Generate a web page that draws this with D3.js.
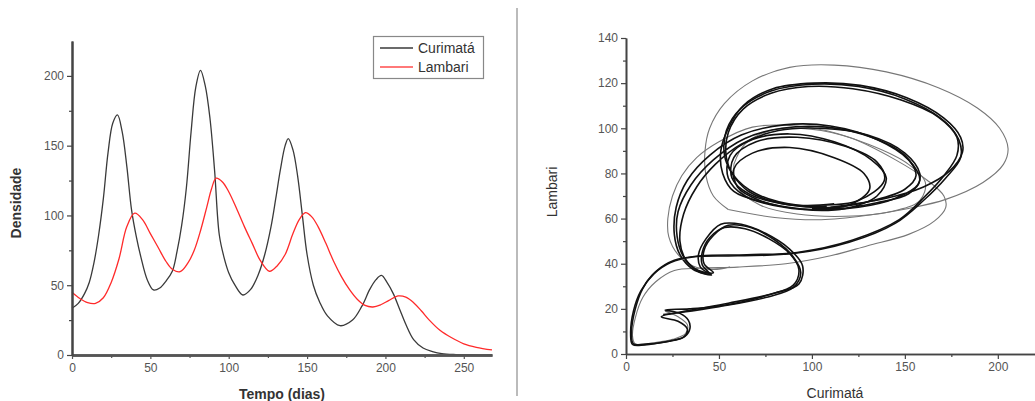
<!DOCTYPE html>
<html>
<head>
<meta charset="utf-8">
<script src="https://cdn.jsdelivr.net/npm/d3@7"></script>
<style>
body { margin: 0; background: #fff; }
text { font-family: "Liberation Sans", Arial, sans-serif; }
</style>
</head>
<body>
<div class="container"></div>
<script>
// ---- time series (left panel) ----
const tempoCurimata = [0, 4, 8, 11, 14, 17, 20, 23, 26, 29, 32, 35, 38, 41, 44, 48, 52, 56, 60, 64, 67, 70, 73, 76, 79, 82, 85, 88, 91, 94, 97, 100, 104, 109, 114, 119, 123, 127, 130, 133, 136, 138, 141, 144, 147, 150, 154, 158, 163, 171, 179, 185, 190, 194, 197.5, 201, 205, 209, 213, 218, 224, 230, 236, 245, 255, 268];
const curimata = [33.5, 37, 44, 52, 66, 86, 112, 145, 166, 172, 160, 135, 104, 85, 70, 54, 46.6, 48, 53, 60, 74, 93, 120, 160, 192, 204, 193, 170, 132, 86, 70, 59, 50, 43, 47, 58, 72, 92, 112, 133, 150, 155, 147, 128, 100, 72, 50, 38, 28, 21, 25, 35, 47, 54, 57, 52, 44, 33, 22, 11, 5, 2.5, 1, 0.3, 0, 0];

const tempoLambari = [0, 5, 10, 15, 20, 25, 30, 35, 40, 45, 50, 55, 60, 64, 69, 74, 78, 82, 86, 89, 92, 96, 100, 105, 110, 115, 120, 126, 131, 136, 141, 145, 149, 153, 157, 162, 167, 172, 177, 182, 187, 192, 197, 202, 208, 213, 218, 223, 228, 235, 242, 250, 258, 268];
const lambari = [45, 40.5, 37.5, 37, 41, 52, 69, 92, 101.6, 97, 87, 77, 67, 61.5, 59.7, 66, 75, 89, 106, 119, 126.7, 124, 117, 105, 92, 80, 68, 60, 64, 72, 87, 97, 102, 99, 92, 80, 67, 56, 47, 40, 35.5, 34.4, 36, 39, 42.3, 41.5, 37.5, 31.5, 25, 17.5, 12.5, 8, 5.5, 3.6];

const densTicks = [0, 50, 100, 150, 200];
const densMinor = [25, 75, 125, 175];
const tempoTicks = [0, 50, 100, 150, 200, 250];
const tempoMinor = [25, 75, 125, 175, 225];

// ---- phase plane (right panel): [curimata, lambari] ----
const phaseGrayOuter = [[55,64],[80,60.5],[105,59.5],[130,61.5],[152,64.5],[172,68.5],[192,76],[203,84],[205.5,91],[201,100],[189,109],[168,118],[140,125],[112,128],[88,127],[68,121],[53,111],[45,100],[42.5,90],[43,79],[47,70],[55,64]];
const phaseGrayWide = [[56,38.5],[47,37.5],[36,39],[28,44],[23,52],[22.5,60],[25,70],[30,79],[38,87],[50,94],[68,100.5],[92,101],[120,96],[145,86],[162,77],[171,70],[172,65],[166,59],[152,53],[130,48],[110,43.5],[86,40],[60,38.5],[40,38],[26,37],[16,32],[9,25],[5,16],[3.5,8],[5,4.5],[15,5],[25,6.5],[32,9],[33,13],[28,16.5],[21,19]];
const phaseGrayMid = [[58,84],[64,93],[80,99.5],[105,99],[130,93],[152,84],[161,76],[158,68],[142,63],[118,61],[92,62],[72,66],[60,74],[58,84]];

const phaseBlackA = [[100,64.5],[120,66],[131,73],[128,80],[112,87],[88,91.5],[68,89],[58,82],[60,74],[72,68],[95,64],[118,64.5],[135,70],[140,78],[132,86],[112,94],[88,97.5],[68,95],[56,88],[55,78],[64,70],[85,65],[110,64],[135,67],[152,71],[158,77],[152,86],[135,95],[110,101],[85,101.5],[62,97],[45,88],[33,77],[27,65],[26,53],[29,44],[36,37.5],[46,35],[40,38.5],[39,44],[43,51],[51,57.5],[62,57.5],[75,53.5],[88,46.5],[95,39],[93,31],[80,27],[55,22.5],[32,19],[19,16.5],[28,14.5],[33,11],[31,7.5],[22,5.5],[10,4],[3.5,4.2],[2.5,9],[4,19],[8,28],[15,35.5],[24,40.5],[36,43],[60,43.5],[90,44.5],[120,49.5],[145,58],[160,68],[172,78],[180,87],[179,95],[170,104],[150,113],[125,118.5],[100,119.5],[78,116.5],[62,109],[54,99],[53,88],[57,80],[66,72],[85,66.5],[108,65.5]];
const phaseBlackB = [[105,66],[125,68],[139,77],[135,85],[118,92],[92,96],[70,94],[58,87],[57,78],[66,71],[88,66],[112,65],[133,68],[150,73],[156,79],[150,88],[132,96],[108,100.5],[84,100],[64,95.5],[47,86],[35,75],[28,63],[27.5,52],[31,43],[38,37],[45,35.5],[41,39.5],[41,45],[45,51.5],[53,56],[64,55.5],[77,51],[88,44.5],[93,37.5],[90,30.5],[76,26],[52,21.5],[34,20],[21,19.5],[29,18],[33.5,15],[34.4,11.4],[31.7,7.8],[24,5.8],[12,4.5],[4,4.5],[3,10],[5,20],[9,29],[16,36.5],[26,41.5],[40,43.5],[65,44],[92,45],[122,50.5],[147,59.5],[161,70],[171,79],[178,88],[178,96],[168,105],[148,112.5],[122,117.5],[98,118.5],[78,115.5],[63,108.5],[55,98],[54,87],[58,79],[70,71],[92,66],[112,66.5]];
const phaseBlackC = [[110,65],[140,69],[160,74],[174,81],[181,89.5],[180,96],[171,104.5],[151,113.5],[126,119],[101,120],[79,117.5],[63,110],[55,100],[51,90],[52,80],[58,72],[75,67],[100,64],[125,65],[145,69],[157,75],[158,80],[150,89],[130,97],[105,100],[82,99],[62,93],[48,84],[38,74],[31,62],[29,50],[32,42],[39,37],[47,36],[42,40],[42,46],[47,52.5],[55,57],[67,56],[80,50.5],[90,43],[94,36],[90,29.5],[75,25],[50,21],[30,18.5],[20,17.5]];

const lambTicks = [0, 20, 40, 60, 80, 100, 120, 140];
const lambMinor = [10, 30, 50, 70, 90, 110, 130];
const curTicks = [0, 50, 100, 150, 200];
const curMinor = [25, 75, 125, 175];

const w = 1035;
const h = 401;

const svg = d3.select('.container')
    .append('svg')
    .attr('width', w)
    .attr('height', h);

// divider between the two panels
svg.append('line')
    .attr('x1', 517).attr('x2', 517)
    .attr('y1', 8).attr('y2', 396)
    .attr('stroke', '#bbb')
    .attr('stroke-width', 2);

function styleAxis(g, color, width) {
    g.select('.domain').attr('stroke', color).attr('stroke-width', width);
    g.selectAll('.tick line').attr('stroke', color).attr('stroke-width', 1.2);
    g.selectAll('.tick text')
        .attr('fill', '#555')
        .style('font-size', '12px')
        .style('font-family', '"Liberation Sans", Arial, sans-serif');
}

// ---- left panel ----
const xL = d3.scaleLinear([0, 268], [72, 492]);
const yL = d3.scaleLinear([0, 225], [355, 41]);

const left = svg.append('g');

const lineL = d3.line()
    .x(d => xL(d[0]))
    .y(d => yL(d[1]))
    .curve(d3.curveCatmullRom.alpha(0.5));

left.append('path')
    .datum(tempoCurimata.map((t, i) => [t, curimata[i]]))
    .attr('fill', 'none')
    .attr('stroke', '#3a3a3a')
    .attr('stroke-width', 1.3)
    .attr('d', lineL);

left.append('path')
    .datum(tempoLambari.map((t, i) => [t, lambari[i]]))
    .attr('fill', 'none')
    .attr('stroke', '#ff2a2a')
    .attr('stroke-width', 1.3)
    .attr('d', lineL);

left.append('g')
    .attr('transform', `translate(0,${yL(0)})`)
    .call(d3.axisBottom(xL).tickValues(tempoMinor).tickSize(3).tickSizeOuter(0).tickFormat(''))
    .call(g => styleAxis(g, '#555', 2.5));
left.append('g')
    .attr('transform', `translate(0,${yL(0)})`)
    .call(d3.axisBottom(xL).tickValues(tempoTicks).tickSize(4).tickSizeOuter(0).tickPadding(4))
    .call(g => styleAxis(g, '#555', 2.5));

left.append('g')
    .attr('transform', `translate(${xL(0)},0)`)
    .call(d3.axisLeft(yL).tickValues(densMinor).tickSize(3).tickSizeOuter(0).tickFormat(''))
    .call(g => styleAxis(g, '#444', 2));
left.append('g')
    .attr('transform', `translate(${xL(0)},0)`)
    .call(d3.axisLeft(yL).tickValues(densTicks).tickSize(5).tickSizeOuter(0).tickPadding(3))
    .call(g => styleAxis(g, '#444', 2));

left.append('text')
    .attr('x', 282)
    .attr('y', 399)
    .attr('text-anchor', 'middle')
    .attr('fill', '#333')
    .style('font-size', '14px')
    .style('font-weight', 'bold')
    .text('Tempo (dias)');

left.append('text')
    .attr('transform', 'translate(21,203) rotate(-90)')
    .attr('text-anchor', 'middle')
    .attr('fill', '#333')
    .style('font-size', '14px')
    .style('font-weight', 'bold')
    .text('Densidade');

// legend
const legend = left.append('g');
legend.append('rect')
    .attr('x', 373.5).attr('y', 36.5)
    .attr('width', 110).attr('height', 42)
    .attr('fill', '#fff')
    .attr('stroke', '#888')
    .attr('stroke-width', 1.2);
const legendItems = [['Curimatá', '#3a3a3a'], ['Lambari', '#ff4d4d']];
legendItems.forEach((d, i) => {
    const y = 48 + i * 19;
    legend.append('line')
        .attr('x1', 380).attr('x2', 413)
        .attr('y1', y).attr('y2', y)
        .attr('stroke', d[1])
        .attr('stroke-width', 1.3);
    legend.append('text')
        .attr('x', 418).attr('y', y + 5)
        .attr('fill', '#333')
        .style('font-size', '14px')
        .text(d[0]);
});

// ---- right panel ----
const xR = d3.scaleLinear([0, 220], [626, 1035]);
const yR = d3.scaleLinear([0, 140], [354, 38]);

const right = svg.append('g');

const lineR = d3.line()
    .x(d => xR(d[0]))
    .y(d => yR(d[1]))
    .curve(d3.curveCatmullRom.alpha(0.5));

[phaseGrayOuter, phaseGrayWide, phaseGrayMid].forEach(p => {
    right.append('path')
        .datum(p)
        .attr('fill', 'none')
        .attr('stroke', '#777')
        .attr('stroke-width', 1.1)
        .attr('d', lineR);
});

[phaseBlackA, phaseBlackB, phaseBlackC].forEach(p => {
    right.append('path')
        .datum(p)
        .attr('fill', 'none')
        .attr('stroke', '#111')
        .attr('stroke-width', 1.6)
        .attr('d', lineR);
});

right.append('g')
    .attr('transform', `translate(0,${yR(0)})`)
    .call(d3.axisBottom(xR).tickValues(curMinor).tickSize(3).tickSizeOuter(0).tickFormat(''))
    .call(g => styleAxis(g, '#444', 1.6));
right.append('g')
    .attr('transform', `translate(0,${yR(0)})`)
    .call(d3.axisBottom(xR).tickValues(curTicks).tickSize(5).tickSizeOuter(0).tickPadding(3))
    .call(g => styleAxis(g, '#444', 1.6));

right.append('g')
    .attr('transform', `translate(${xR(0)},0)`)
    .call(d3.axisLeft(yR).tickValues(lambMinor).tickSize(3).tickSizeOuter(0).tickFormat(''))
    .call(g => styleAxis(g, '#444', 1.6));
right.append('g')
    .attr('transform', `translate(${xR(0)},0)`)
    .call(d3.axisLeft(yR).tickValues(lambTicks).tickSize(5).tickSizeOuter(0).tickPadding(3))
    .call(g => styleAxis(g, '#444', 1.6));

right.append('text')
    .attr('x', 835)
    .attr('y', 398)
    .attr('text-anchor', 'middle')
    .attr('fill', '#333')
    .style('font-size', '14px')
    .text('Curimatá');

right.append('text')
    .attr('transform', 'translate(557,192) rotate(-90)')
    .attr('text-anchor', 'middle')
    .attr('fill', '#333')
    .style('font-size', '14px')
    .text('Lambari');
</script>
</body>
</html>
